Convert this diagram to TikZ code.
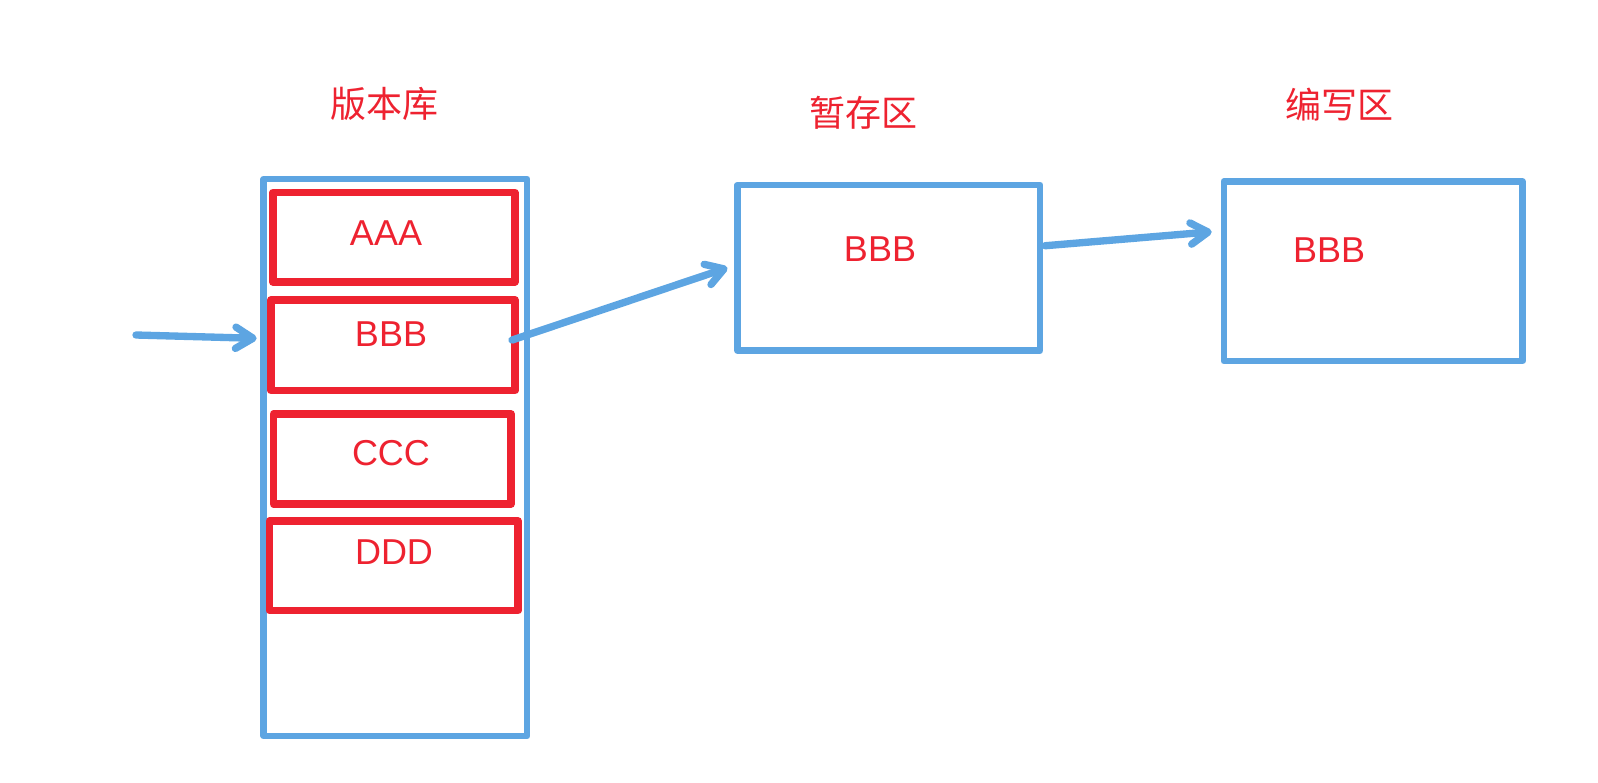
\documentclass[tikz,border=0pt]{standalone}
\usepackage{fontspec}
\setmainfont{Liberation Sans}
\newfontfamily\cjk{Noto Sans CJK SC}
\usetikzlibrary{arrows.meta}
\definecolor{boxblue}{RGB}{93,165,226}
\definecolor{boxred}{RGB}{238,34,48}
\begin{document}
\begin{tikzpicture}[x=0.75pt,y=-0.75pt,
  bluebox/.style={draw=boxblue, line width=5pt, line join=round, rectangle, inner sep=0pt, outer sep=0pt},
  redbox/.style={draw=boxred, line width=5.8pt, line join=round, rectangle, inner sep=0pt, outer sep=0pt},
  lbl/.style={text=boxred, font=\fontsize{27}{32}\selectfont, inner sep=0pt},
  ttl/.style={text=boxred, font=\cjk\fontsize{27}{32}\selectfont, inner sep=0pt},
  arr/.style={draw=boxblue, line width=5.5pt, line cap=round, line join=round, -{Straight Barb[length=13pt,width=16pt,round]}}
]
\useasboundingbox (0,0) rectangle (1598,782);
\fill[white] (0,0) rectangle (1598,782);

% titles
\node[ttl] (t1) at (384,104) {版本库};
\node[ttl] (t2) at (863,113) {暂存区};
\node[ttl] (t3) at (1339,105) {编写区};

% repository column
\node[bluebox, minimum width=197.5pt, minimum height=417.75pt] (repo) at (395.35,457.5) {};
\node[redbox, minimum width=181.3pt, minimum height=67.1pt] (aaa) at (393.85,237.25) {};
\node[redbox, minimum width=183pt, minimum height=67.9pt] (bbb) at (393,345.25) {};
\node[redbox, minimum width=178.1pt, minimum height=67.5pt] (ccc) at (392.25,459) {};
\node[redbox, minimum width=186.4pt, minimum height=67.1pt] (ddd) at (393.75,565.75) {};
\node[lbl] (aaatxt) at (386,233) {AAA};
\node[lbl] (bbbtxt) at (391,334) {BBB};
\node[lbl] (ccctxt) at (391,453) {CCC};
\node[lbl] (dddtxt) at (394,552.5) {DDD};

% staging area
\node[bluebox, minimum width=226.9pt, minimum height=124.1pt] (stage) at (888.75,267.75) {};
\node[lbl] (stagetxt) at (880,249) {BBB};

% working area
\node[bluebox, minimum width=223.9pt, minimum height=134.6pt] (work) at (1373.25,271.25) {};
\node[lbl] (worktxt) at (1329,250) {BBB};

% arrows
\coordinate (in) at (136,335);
\draw[arr] (in) -- ([xshift=-5.25pt,yshift=-2.5pt]repo.west |- in);
\draw[arr] ([xshift=-2.25pt,yshift=3.9pt]bbb.east) -- ([xshift=-7.5pt]stage.west);
\draw[arr] ([xshift=3.75pt,yshift=16.5pt]stage.east) -- ([xshift=-9.2pt,yshift=29.6pt]work.west);
\end{tikzpicture}
\end{document}
